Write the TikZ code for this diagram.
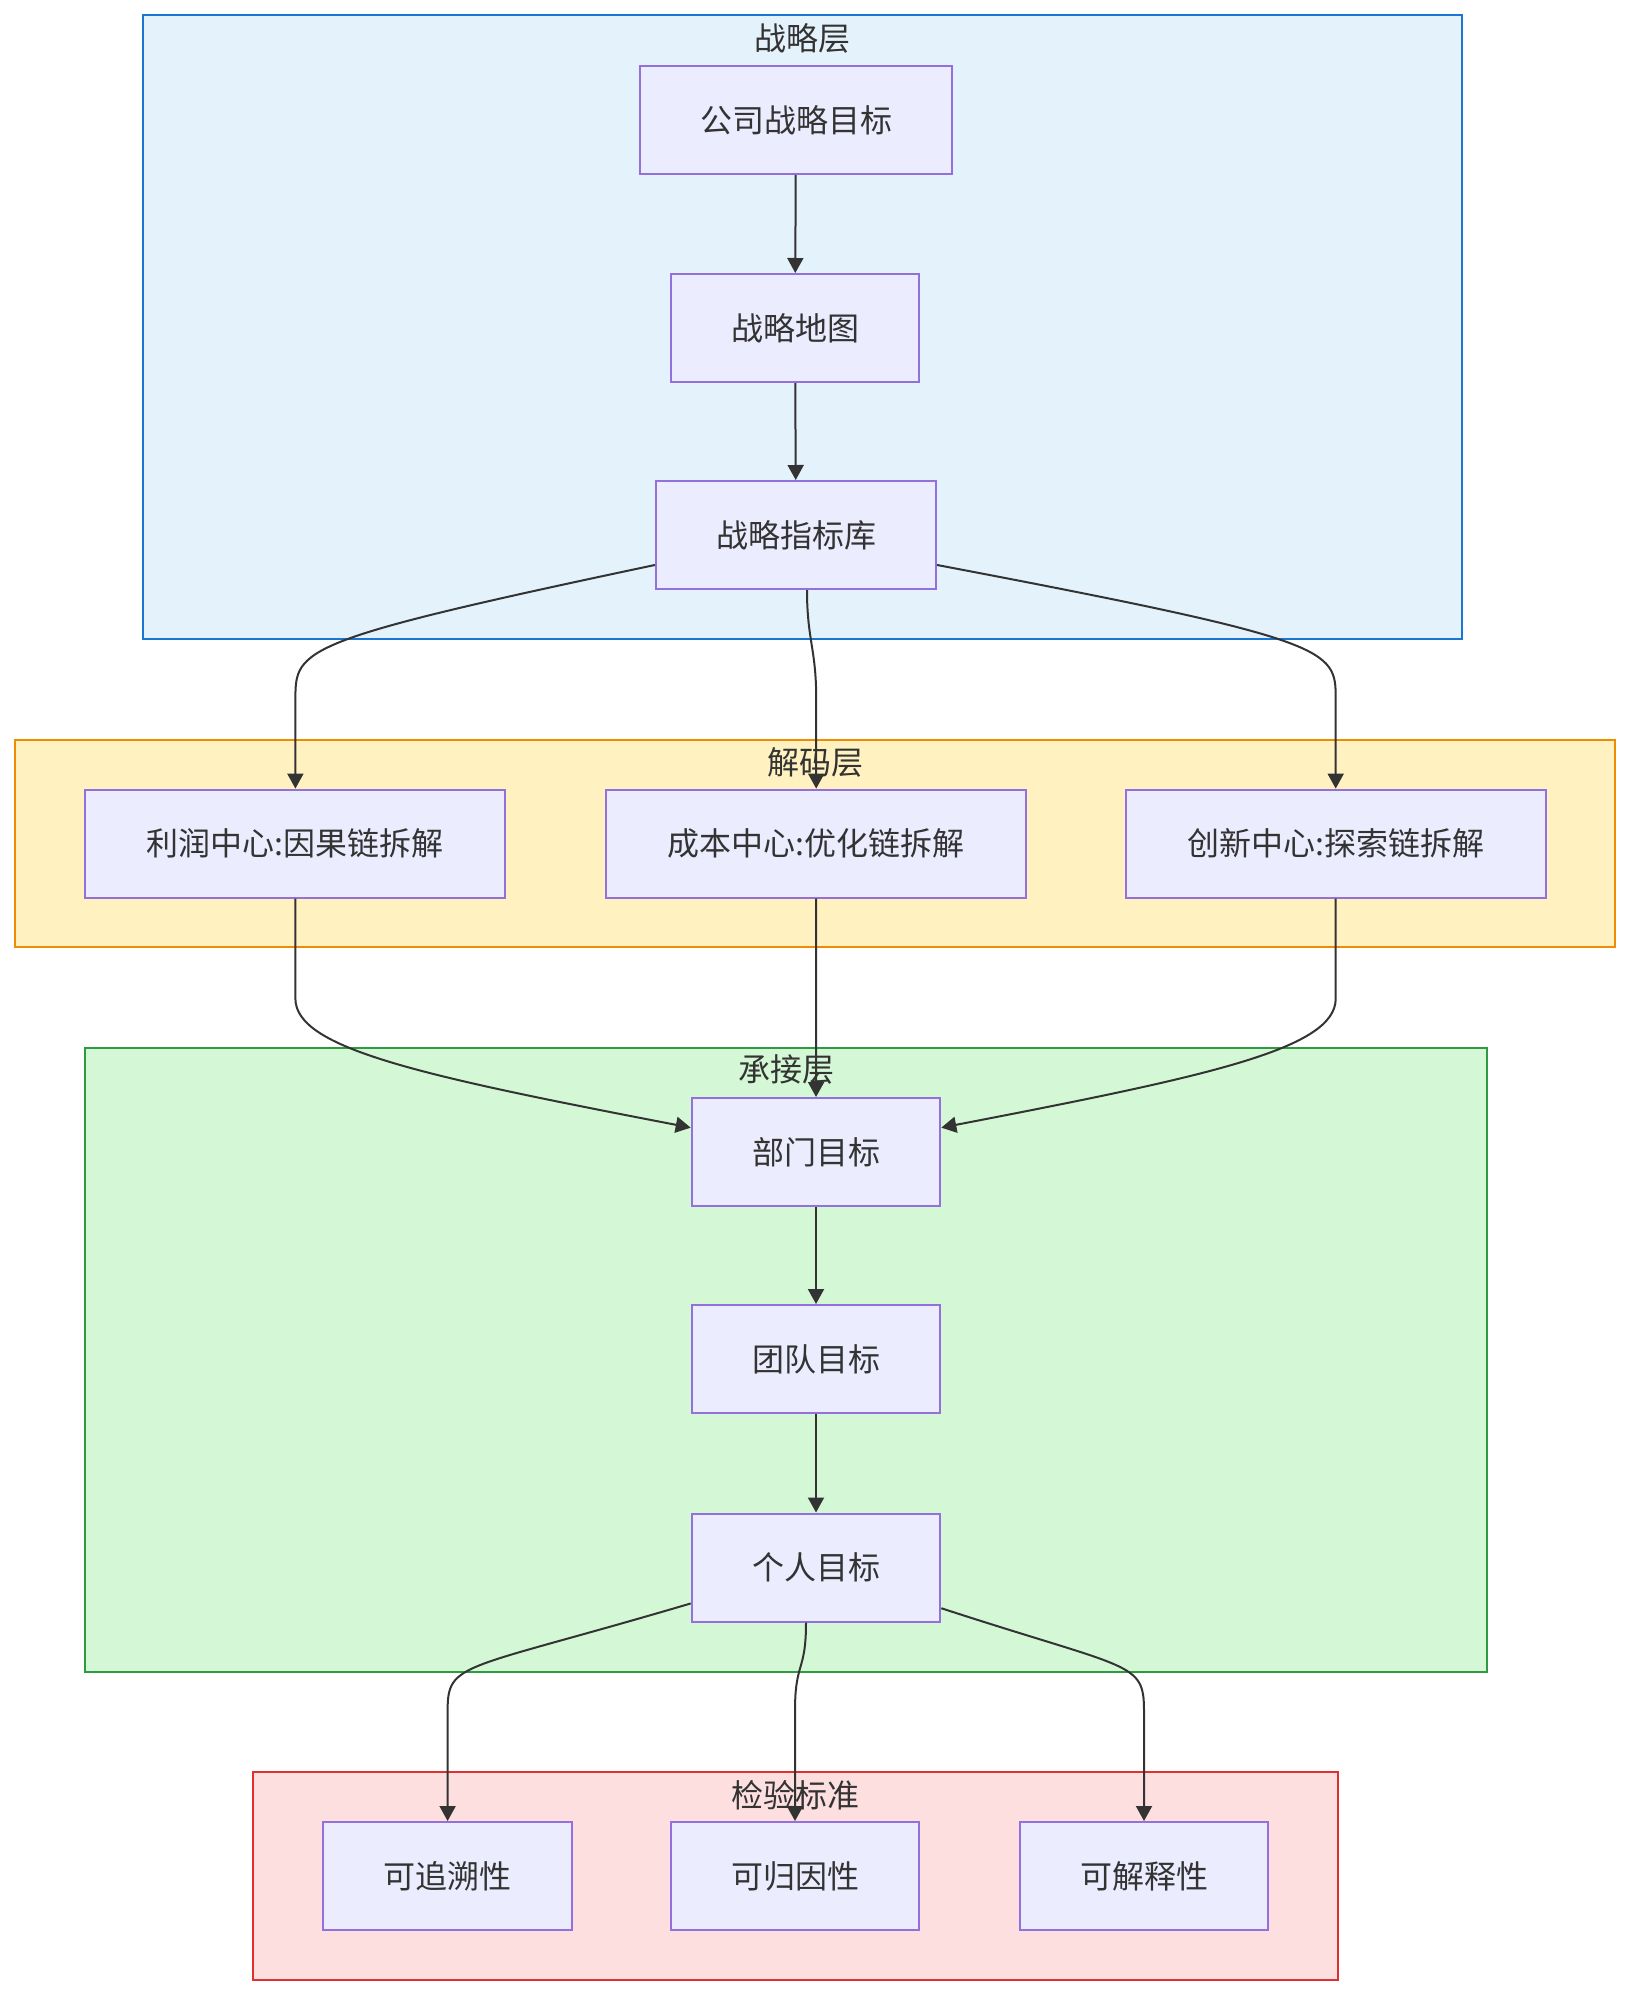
\documentclass[tikz,border=0pt]{standalone}
\usepackage{fontspec}
\newfontfamily\cjk{Noto Sans CJK SC}
\usepackage{xcolor}
\usepackage{tikz}
\usetikzlibrary{arrows.meta,positioning,calc}
\definecolor{ink}{HTML}{333333}
\definecolor{boxfill}{HTML}{ECECFF}
\definecolor{boxline}{HTML}{9370DB}
\definecolor{bluefill}{HTML}{E4F2FC}
\definecolor{blueline}{HTML}{1976D2}
\definecolor{yelfill}{HTML}{FFF2C0}
\definecolor{yelline}{HTML}{F08C00}
\definecolor{grnfill}{HTML}{D4F8D6}
\definecolor{grnline}{HTML}{2E9B40}
\definecolor{redfill}{HTML}{FDDFE0}
\definecolor{redline}{HTML}{E03131}
\tikzset{
  box/.style   = {draw=boxline, fill=boxfill, line width=1pt, text=ink,
                  font=\cjk\fontsize{16}{19}\selectfont, inner sep=0pt,
                  minimum height=54pt},
  layer/.style = {line width=1pt, inner sep=0pt},
  ttl/.style   = {text=ink, font=\cjk\fontsize{16}{19}\selectfont, inner sep=0pt},
  ar/.style    = {-{Triangle[length=7.5pt,width=8pt]}, line width=1pt, draw=ink}
}
\begin{document}
\begin{tikzpicture}[x=0.5pt, y=0.5pt]
\useasboundingbox (0,0) rectangle (1631,-1996);

% layers
\node[layer, draw=blueline, fill=bluefill, minimum width=659.5pt, minimum height=312pt]
  (strat) at (802,-327.3) {};
\node[layer, draw=yelline, fill=yelfill, minimum width=799.6pt, minimum height=103.8pt]
  (decode) at (815,-843.6) {};
\node[layer, draw=grnline, fill=grnfill, minimum width=701pt, minimum height=312pt]
  (carry) at (786.3,-1359.9) {};
\node[layer, draw=redline, fill=redfill, minimum width=542.4pt, minimum height=103.8pt]
  (check) at (795.8,-1876.2) {};
\node[ttl] (stratT) at ($(strat.north)+(0,-24)$) {战略层};
\node[ttl] (decodeT) at ($(decode.north)+(0,-24)$) {解码层};
\node[ttl] (carryT) at ($(carry.north)+(0,-23)$) {承接层};
\node[ttl] (checkT) at ($(check.north)+(0,-24)$) {检验标准};

% strategy
\node[box, minimum width=156.3pt] (goal) at (796,-120) {公司战略目标};
\node[box, minimum width=124pt] (map) at (795,-328) {战略地图};
\node[box, minimum width=140pt] (lib) at (796,-535) {战略指标库};

% decoding
\node[box, minimum width=210pt] (profit) at (295.4,-843.6) {利润中心:因果链拆解};
\node[box, minimum width=210pt] (cost) at (816.2,-843.6) {成本中心:优化链拆解};
\node[box, minimum width=210pt] (innov) at (1335.7,-843.6) {创新中心:探索链拆解};

% carrying
\node[box, minimum width=124.3pt] (dept) at (816,-1152) {部门目标};
\node[box, minimum width=124.3pt] (team) at (816,-1359) {团队目标};
\node[box, minimum width=124.3pt] (person) at (816,-1567.5) {个人目标};

% checks
\node[box, minimum width=124.3pt] (trace) at (447.6,-1876) {可追溯性};
\node[box, minimum width=124.3pt] (attr) at (795,-1876) {可归因性};
\node[box, minimum width=124.3pt] (explain) at (1144,-1876) {可解释性};

\draw[ar] (goal) -- (map);
\draw[ar] (map) -- (lib);
\draw[ar] (lib.192) .. controls +(-355,-75) and +(0,50) .. ($(profit.north)+(0,90)$) -- (profit.north);
\draw[ar] ($(lib.south)+(11,0)$) .. controls +(0,-50) and +(0,50) .. ($(cost.north)+(0,90)$) -- (cost.north);
\draw[ar] (lib.348) .. controls +(395,-75) and +(0,50) .. ($(innov.north)+(0,90)$) -- (innov.north);

\draw[ar] (profit.south) -- ++(0,-100) .. controls +(0,-50) and +(-270,52) .. (dept.169);
\draw[ar] (cost) -- (dept);
\draw[ar] (innov.south) -- ++(0,-100) .. controls +(0,-50) and +(270,52) .. (dept.11);
\draw[ar] (dept) -- (team);
\draw[ar] (team) -- (person);

\draw[ar] (person.196) .. controls +(-230,-68) and +(0,50) .. ($(trace.north)+(0,110)$) -- (trace.north);
\draw[ar] ($(person.south)+(-10,0)$) .. controls +(0,-50) and +(0,50) .. ($(attr.north)+(0,110)$) -- (attr.north);
\draw[ar] (person.342) .. controls +(190,-62) and +(0,50) .. ($(explain.north)+(0,110)$) -- (explain.north);
\end{tikzpicture}
\end{document}
